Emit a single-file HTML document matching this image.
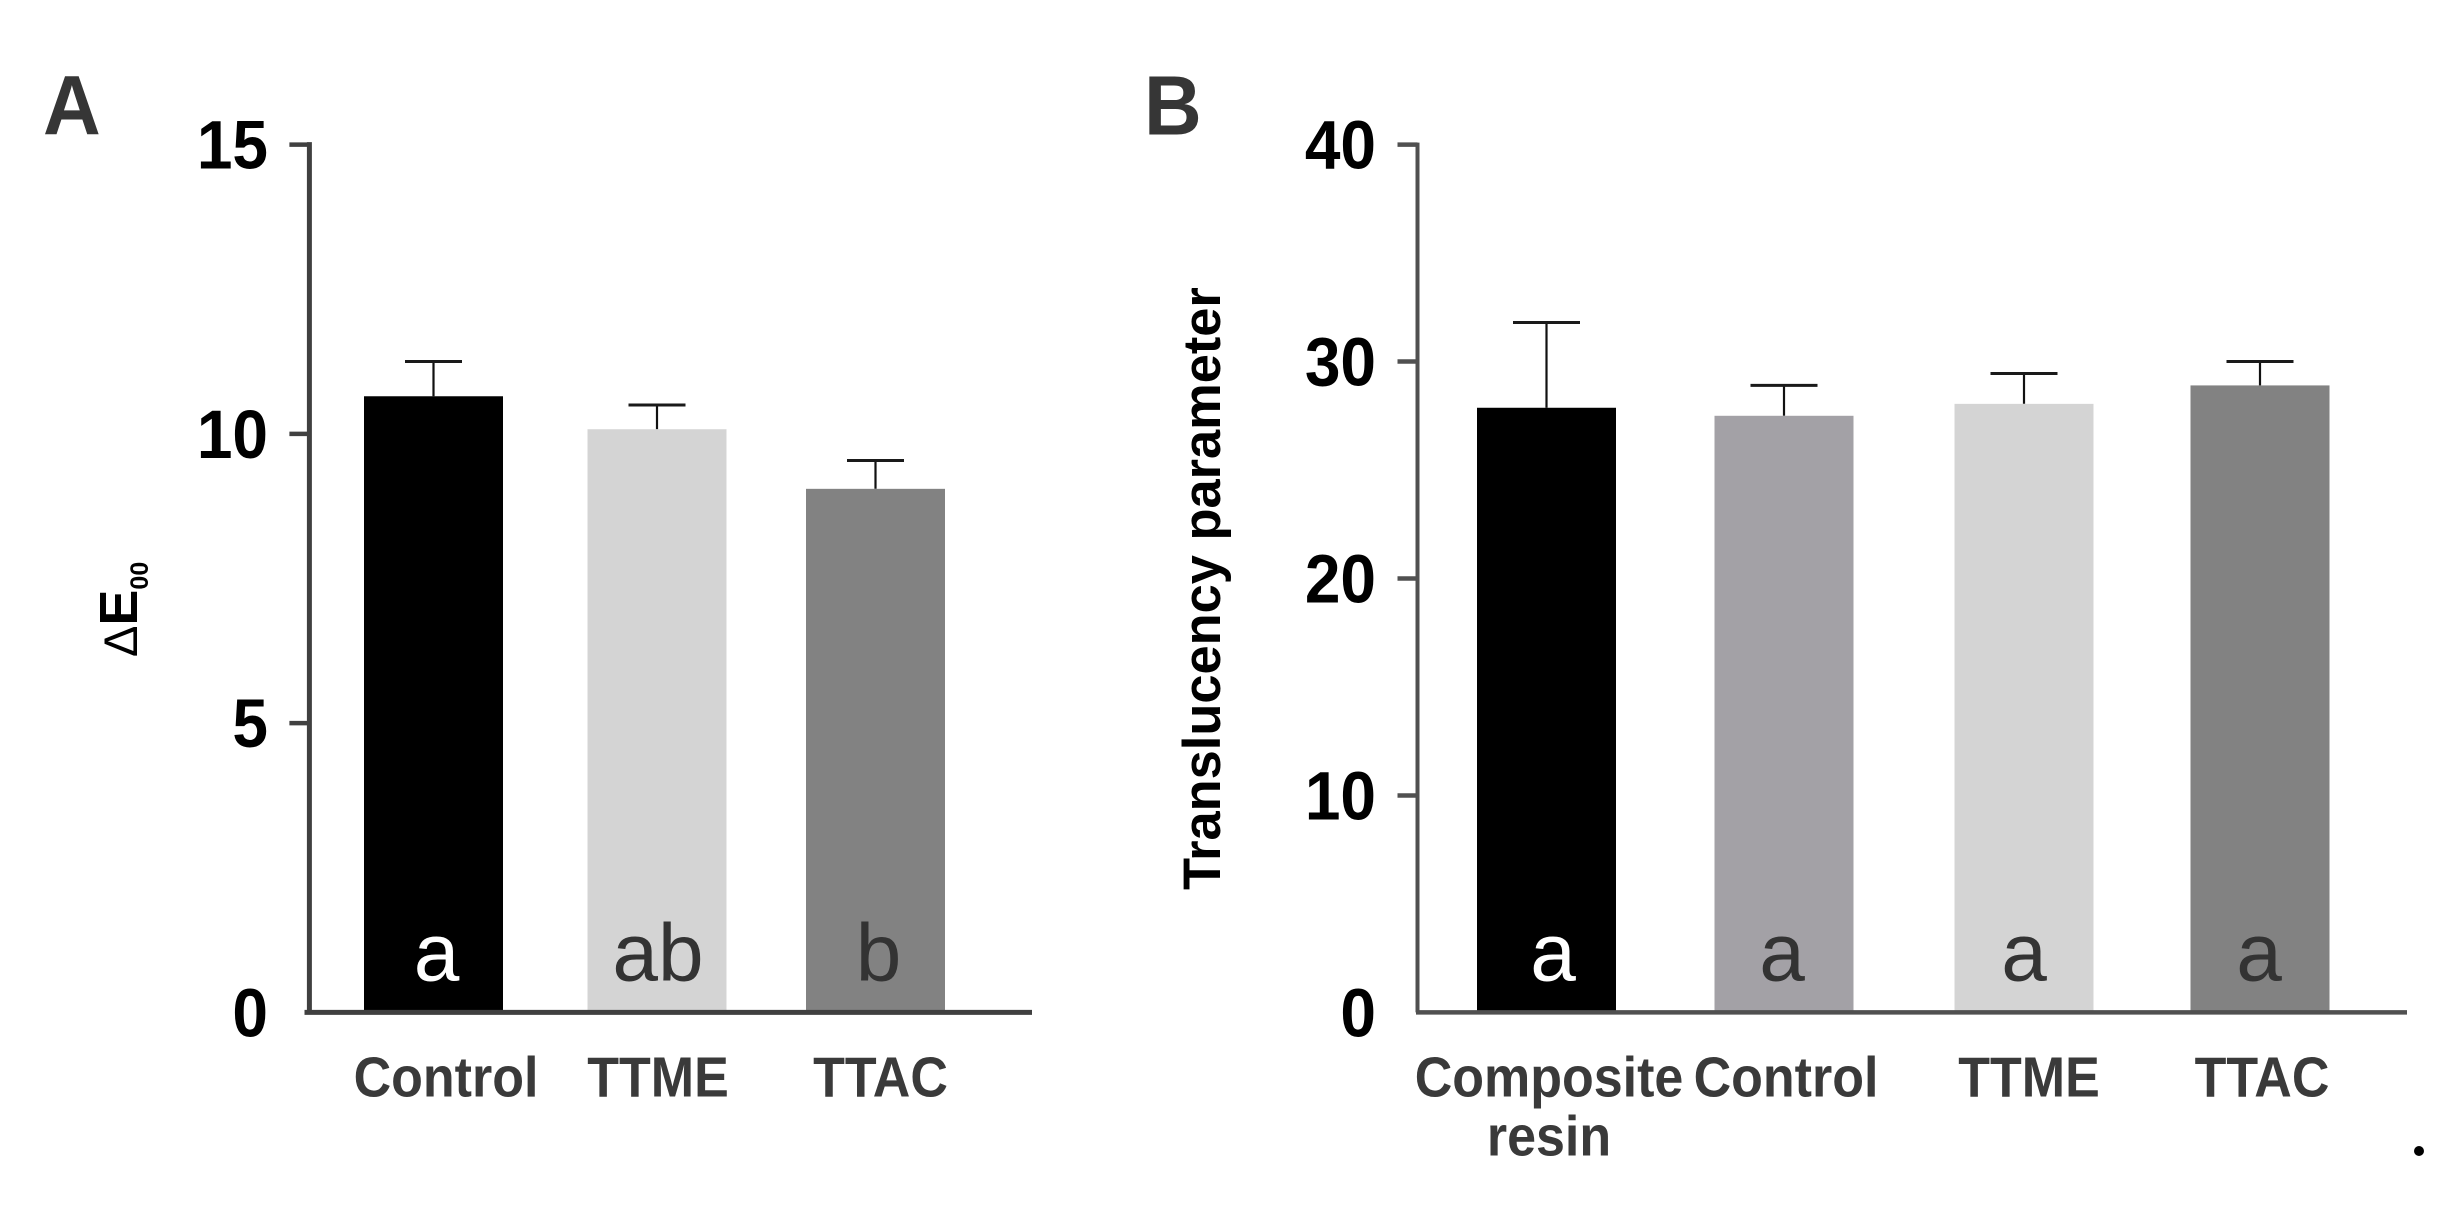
<!DOCTYPE html>
<html lang="en">
<head>
<meta charset="utf-8">
<title>Delta E00 and translucency parameter bar charts</title>
<style>
  html, body { margin: 0; padding: 0; background: #fff; width: 2453px; height: 1206px; overflow: hidden; }
  svg { display: block; }
  text { font-family: "Liberation Sans", Arial, sans-serif; }
</style>
</head>
<body>
<svg id="figure" xmlns="http://www.w3.org/2000/svg" width="2453" height="1206" viewBox="0 0 2453 1206">
  <rect x="0" y="0" width="2453" height="1206" fill="#ffffff"/>
  <text transform="translate(43 134.7) scale(1 1.05)" font-size="80" font-weight="700" fill="#363636">A</text>
  <text transform="translate(1144 134.7) scale(1 1.05)" font-size="80" font-weight="700" fill="#363636">B</text>
  <text transform="translate(137 657) rotate(-90)" fill="#000000"><tspan font-size="47">Δ</tspan><tspan font-size="54" font-weight="700">E</tspan><tspan font-size="25" font-weight="700" dy="11">00</tspan></text>
  <text transform="translate(1220 890) rotate(-90)" font-size="52.4" font-weight="700" fill="#000000">Translucency parameter</text>
  <circle cx="2419" cy="1151" r="5" fill="#000000"/>
  <g id="panel-a"></g>
  <g id="panel-b"></g>
</svg>
<script>
// Panel A data
const categoriesA = ['Control', 'TTME', 'TTAC'];
const valuesA = [10.65, 10.08, 9.05];
const errorsA = [0.6, 0.42, 0.49];
const lettersA = ['a', 'ab', 'b'];
const coloursA = ['#000000', '#d4d4d4', '#828282'];
const ticksA = [0, 5, 10, 15];

// Panel B data
const categoriesB = [['Composite', 'resin'], ['Control'], ['TTME'], ['TTAC']];
const valuesB = [27.87, 27.5, 28.05, 28.9];
const errorsB = [3.93, 1.4, 1.4, 1.1];
const lettersB = ['a', 'a', 'a', 'a'];
const coloursB = ['#000000', '#a3a1a6', '#d4d4d4', '#828282'];
const ticksB = [0, 10, 20, 30, 40];

const NS = 'http://www.w3.org/2000/svg';

function el(tag, attrs, parent) {
  const node = document.createElementNS(NS, tag);
  for (const k in attrs) node.setAttribute(k, attrs[k]);
  parent.appendChild(node);
  return node;
}

function slug(s) {
  return String(s).toLowerCase().replace(/[^a-z0-9]+/g, '-');
}

function drawPanel(p) {
  const root = document.getElementById(p.id);
  const y = v => p.y0 - (v / p.yMax) * (p.y0 - p.yTop);
  const x = i => p.x0 + p.step * i + p.slotNudge[i];

  // bars, error bars, significance letters
  p.values.forEach((v, i) => {
    const cx = x(i);
    const top = y(v);
    const errTop = y(v + p.errors[i]);
    const name = slug(p.flatNames[i]);

    const stem = el('line', { x1: cx, x2: cx, y1: errTop, y2: top, stroke: '#111', 'stroke-width': 2.2 }, root);
    
    

    const cap = el('line', { x1: cx - p.capW / 2, x2: cx + p.capW / 2, y1: errTop, y2: errTop, stroke: '#1a1a1a', 'stroke-width': 3 }, root);
    
    

    const bar = el('rect', { x: cx - p.barW / 2, y: top, width: p.barW, height: p.y0 - top, fill: p.colours[i] }, root);
    
    

    const letter = el('text', { x: cx + p.letterNudge[i], y: 980.5, 'font-size': 82, 'text-anchor': 'middle', fill: i === 0 ? '#ffffff' : '#333333' }, root);
    letter.textContent = p.letters[i];
    
    

    // category label (one or two lines)
    p.categories[i].forEach((line, j) => {
      const lx = cx + p.labelNudge[i];
      const ly = 1096.5 + j * 59;
      const label = el('text', { transform: 'translate(' + lx + ' ' + ly + ') scale(1 1.09)', 'font-size': 52, 'font-weight': 700, 'text-anchor': 'middle', fill: '#3a3a3a' }, root);
      label.textContent = line;
      
      
    });
  });

  // y axis line
  const yAxis = el('line', { x1: p.axisX, x2: p.axisX, y1: y(p.yMax) - p.axisW / 2, y2: p.y0, stroke: p.axisColour, 'stroke-width': p.axisW }, root);
  
  

  // x axis line
  const xAxis = el('line', { x1: p.baseX1, x2: p.baseX2, y1: p.y0, y2: p.y0, stroke: p.axisColour, 'stroke-width': p.baseW }, root);
  
  

  // ticks and tick labels
  p.ticks.forEach(t => {
    const ty = y(t);
    if (t !== 0) {
      const tick = el('line', { x1: p.axisX - 20, x2: p.axisX, y1: ty, y2: ty, stroke: p.axisColour, 'stroke-width': 4.5 }, root);
      
      
    }
    const tl = el('text', { transform: 'translate(' + p.tickLabelX + ' ' + (ty + 24) + ') scale(1 1.07)', 'font-size': 64, 'font-weight': 700, 'text-anchor': 'end', fill: '#000000' }, root);
    tl.textContent = t;
    
    
  });
}

drawPanel({
  id: 'panel-a', prefix: 'panel-a',
  categories: categoriesA.map(c => [c]), flatNames: categoriesA,
  values: valuesA, errors: errorsA, letters: lettersA, colours: coloursA, ticks: ticksA,
  yMax: 15, y0: 1012.4, yTop: 144.6,
  x0: 433.5, step: 221, slotNudge: [0, 2.5, 0], barW: 139, capW: 57, letterNudge: [3, 1, 3],
  labelNudge: [12.5, 1, 5],
  axisX: 309.4, axisW: 5, baseX1: 304.5, baseX2: 1032, baseW: 5, axisColour: '#404040',
  tickLabelX: 268
});

drawPanel({
  id: 'panel-b', prefix: 'panel-b',
  categories: categoriesB, flatNames: categoriesB.map(c => c[0]),
  values: valuesB, errors: errorsB, letters: lettersB, colours: coloursB, ticks: ticksB,
  yMax: 40, y0: 1012.4, yTop: 144.6,
  x0: 1546.5, step: 238, slotNudge: [0, -0.5, 1.5, -0.5], barW: 139, capW: 67, letterNudge: [6.5, -2, 0, -1],
  labelNudge: [2.5, 2, 5, 2],
  axisX: 1417.5, axisW: 4, baseX1: 1416, baseX2: 2407, baseW: 4.5, axisColour: '#505050',
  tickLabelX: 1376
});
</script>
</body>
</html>
